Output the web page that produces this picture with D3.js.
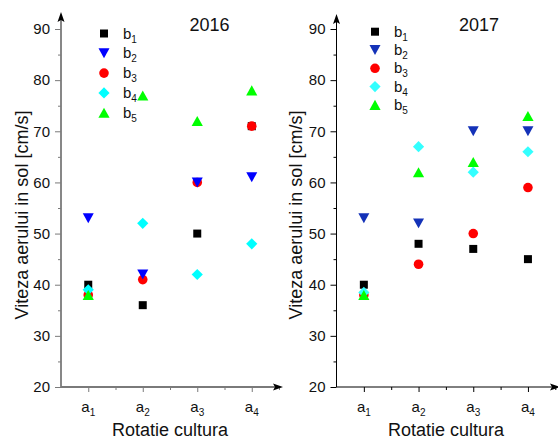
<!DOCTYPE html>
<html>
<head>
<meta charset="utf-8">
<script src="https://cdn.jsdelivr.net/npm/d3@7"></script>
<style>
  html, body { margin: 0; padding: 0; background: #fff; }
  svg { display: block; font-family: Arial, "Liberation Sans", sans-serif; }
</style>
</head>
<body>
<svg id="chart" width="558" height="441"></svg>
<script>
// Categories (crop rotation) and treatment series
const categories = ["a1", "a2", "a3", "a4"];
const seriesNames = ["b1", "b2", "b3", "b4", "b5"];
const yTicks = [20, 30, 40, 50, 60, 70, 80, 90];

// Soil air velocity [cm/s], one array per series, 2016
const y2016_b1 = [40, 36, 50, 71];
const y2016_b2 = [53, 42, 60, 61];
const y2016_b3 = [38, 41, 60, 71];
const y2016_b4 = [39, 52, 42, 48];
const y2016_b5 = [38, 77, 72, 78];

// Soil air velocity [cm/s], 2017
const y2017_b1 = [40, 48, 47, 45];
const y2017_b2 = [53, 52, 70, 70];
const y2017_b3 = [38, 44, 50, 59];
const y2017_b4 = [38.5, 67, 62, 66];
const y2017_b5 = [38, 62, 64, 73];

// Custom marker shapes (size = characteristic half-width in px)
const shapes = {
  square: { draw(ctx, r) { ctx.rect(-r, -r, 2 * r, 2 * r); } },
  circle: { draw(ctx, r) { ctx.moveTo(r, 0); ctx.arc(0, 0, r, 0, 2 * Math.PI); } },
  triDown: { draw(ctx, r) { const h = r * 0.9; ctx.moveTo(-r, -h); ctx.lineTo(r, -h); ctx.lineTo(0, h); ctx.closePath(); } },
  triUp: { draw(ctx, r) { const h = r * 0.9; ctx.moveTo(-r, h); ctx.lineTo(r, h); ctx.lineTo(0, -h); ctx.closePath(); } },
  diamond: { draw(ctx, r) { ctx.moveTo(0, -r); ctx.lineTo(r, 0); ctx.lineTo(0, r); ctx.lineTo(-r, 0); ctx.closePath(); } }
};
const seriesShape = ["square", "triDown", "circle", "diamond", "triUp"];
const seriesSize = [4, 5.5, 4.8, 5.6, 5.6];
const drawOrder = [0, 2, 1, 3, 4];

const svg = d3.select("#chart");

const panels = [
  {
    title: "2016",
    data: [y2016_b1, y2016_b2, y2016_b3, y2016_b4, y2016_b5],
    colors: ["#000000", "#0000ff", "#ff0000", "#00ffff", "#00ff00"],
    x0: 61, x1: 279, arrowX: 283, arrowTop: 12,
    axisColor: "#7a7a7a", axisWidth: 1.8,
    yLabelX: 28, xLabelX: 170, titleX: 209.5,
    legendX: 104, legendY0: 33.5, legendStep: 19.8
  },
  {
    title: "2017",
    data: [y2017_b1, y2017_b2, y2017_b3, y2017_b4, y2017_b5],
    colors: ["#000000", "#1432b8", "#ff0000", "#33ffff", "#00ff00"],
    x0: 336.5, x1: 555.3, arrowX: 560, arrowTop: 14,
    axisColor: "#000000", axisWidth: 1,
    yLabelX: 302, xLabelX: 446, titleX: 479,
    legendX: 375, legendY0: 31.7, legendStep: 18.3
  }
];

const yTop = 29, yBottom = 387;

panels.forEach(p => {
  const g = svg.append("g");
  const x = d3.scaleLinear().domain([0.5, 4.5]).range([p.x0, p.x1]);
  const y = d3.scaleLinear().domain([20, 90]).range([yBottom, yTop]);

  // Y axis: major ticks with labels, minor ticks in between
  const yAxis = d3.axisLeft(y).tickValues(yTicks).tickSize(6).tickPadding(5).tickFormat(d3.format("d"));
  const ya = g.append("g").attr("transform", `translate(${p.x0},0)`).call(yAxis);
  ya.select(".domain").remove();
  ya.selectAll(".tick line").attr("stroke", p.axisColor).attr("stroke-width", 1);
  ya.selectAll(".tick text").attr("font-size", 15).attr("fill", "#111")
    .attr("font-family", "Arial, 'Liberation Sans', sans-serif");
  const yMinor = d3.axisLeft(y).tickValues(d3.range(25, 90, 10)).tickSize(3).tickFormat("");
  const ym = g.append("g").attr("transform", `translate(${p.x0},0)`).call(yMinor);
  ym.select(".domain").remove();
  ym.selectAll(".tick line").attr("stroke", p.axisColor);

  // X axis: category ticks and half-step minor ticks
  const xAxis = d3.axisBottom(x).tickValues([1, 2, 3, 4]).tickSize(5).tickFormat("");
  const xa = g.append("g").attr("transform", `translate(0,${yBottom})`).call(xAxis);
  xa.select(".domain").remove();
  xa.selectAll(".tick line").attr("stroke", p.axisColor);
  const xMinor = d3.axisBottom(x).tickValues([1.5, 2.5, 3.5, 4.5]).tickSize(3).tickFormat("");
  const xm = g.append("g").attr("transform", `translate(0,${yBottom})`).call(xMinor);
  xm.select(".domain").remove();
  xm.selectAll(".tick line").attr("stroke", p.axisColor);

  // Category labels with subscripts
  categories.forEach((c, i) => {
    const t = g.append("text")
      .attr("x", x(i + 1)).attr("y", 412)
      .attr("text-anchor", "middle").attr("font-size", 15).attr("fill", "#111");
    t.append("tspan").text(c.charAt(0));
    t.append("tspan").attr("font-size", 10).attr("dy", 4).text(c.slice(1));
  });

  // Axis lines with arrow heads
  g.append("line").attr("x1", p.x0).attr("x2", p.x0).attr("y1", yBottom).attr("y2", p.arrowTop + 6)
    .attr("stroke", p.axisColor).attr("stroke-width", p.axisWidth);
  g.append("line").attr("x1", p.x0).attr("x2", p.arrowX - 8).attr("y1", yBottom).attr("y2", yBottom)
    .attr("stroke", p.axisColor).attr("stroke-width", p.axisWidth);
  g.append("path")
    .attr("d", `M${p.x0},${p.arrowTop} L${p.x0 - 3.5},${p.arrowTop + 10} L${p.x0},${p.arrowTop + 8} L${p.x0 + 3.5},${p.arrowTop + 10} Z`)
    .attr("fill", "#000");
  g.append("path")
    .attr("d", `M${p.arrowX},${yBottom} L${p.arrowX - 10},${yBottom - 3.5} L${p.arrowX - 8},${yBottom} L${p.arrowX - 10},${yBottom + 3.5} Z`)
    .attr("fill", "#000");

  // Axis titles
  g.append("text")
    .attr("transform", `translate(${p.yLabelX},${(yTop + yBottom) / 2 + 7}) rotate(-90)`)
    .attr("text-anchor", "middle").attr("font-size", 18).attr("fill", "#111")
    .text("Viteza aerului in sol [cm/s]");
  g.append("text")
    .attr("x", p.xLabelX).attr("y", 436)
    .attr("text-anchor", "middle").attr("font-size", 18).attr("fill", "#111")
    .text("Rotatie cultura");

  // Panel title
  g.append("text")
    .attr("x", p.titleX).attr("y", 31)
    .attr("text-anchor", "middle").attr("font-size", 18).attr("fill", "#111")
    .text(p.title);

  // Data markers
  drawOrder.forEach(s => {
    const sym = d3.symbol().type(shapes[seriesShape[s]]).size(seriesSize[s]);
    g.append("g").selectAll("path")
      .data(p.data[s])
      .join("path")
      .attr("transform", (d, i) => `translate(${x(i + 1)},${y(d)})`)
      .attr("d", sym)
      .attr("fill", p.colors[s]);
  });

  // Legend
  seriesNames.forEach((name, s) => {
    const ly = p.legendY0 + s * p.legendStep;
    g.append("path")
      .attr("transform", `translate(${p.legendX},${ly})`)
      .attr("d", d3.symbol().type(shapes[seriesShape[s]]).size(seriesSize[s])())
      .attr("fill", p.colors[s]);
    const t = g.append("text")
      .attr("x", p.legendX + 19).attr("y", ly + 5)
      .attr("font-size", 15).attr("fill", "#111");
    t.append("tspan").text(name.charAt(0));
    t.append("tspan").attr("font-size", 10).attr("dy", 4).text(name.slice(1));
  });
});
</script>
</body>
</html>
